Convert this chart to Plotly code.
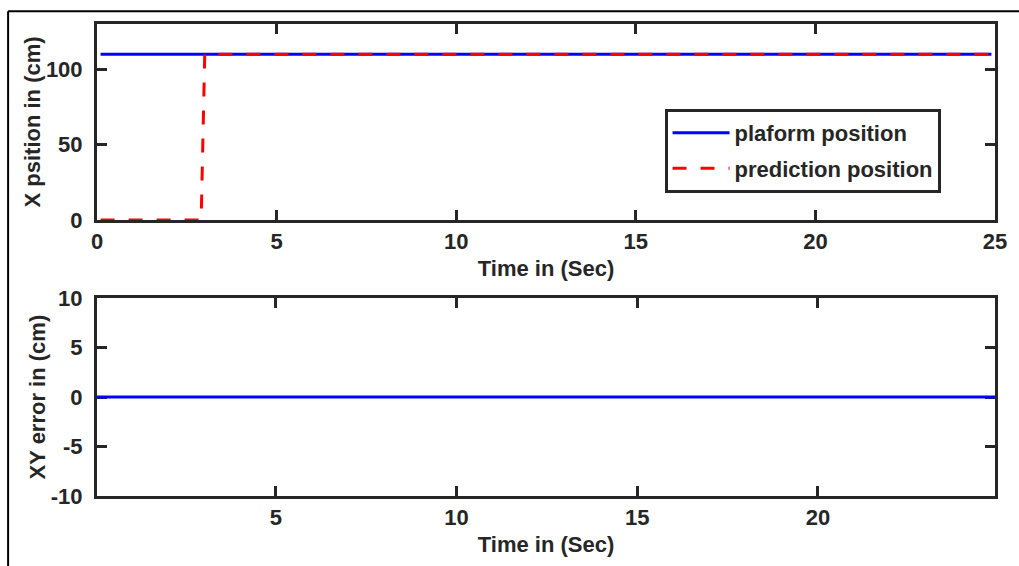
import plotly.graph_objects as go
from plotly.subplots import make_subplots

# data
t_platform = [0.1, 24.9]
platform_x = [110, 110]
t_pred = [0.1, 2.9, 3.0, 24.9]
pred_x = [0, 0, 110, 110]
t_err = [0.05, 24.9]
err_xy = [0, 0]

top_ticks = [0, 5, 10, 15, 20, 25]
bottom_ticks = [5, 10, 15, 20]
top_yticks = [0, 50, 100]
bottom_yticks = [-10, -5, 0, 5, 10]
bottom_yticklabels = ["-10", "-5", "0", "5", "10"]

AX = "#262626"
FONT = dict(family="Liberation Sans, Arial, sans-serif", size=22, color=AX, weight="bold")

fig = make_subplots(rows=2, cols=1, shared_xaxes=False)

fig.add_trace(go.Scatter(x=t_platform, y=platform_x, mode="lines", name="plaform position",
                         legendgroup="a",
                         line=dict(color="#0000FF", width=3)), row=1, col=1)
fig.add_trace(go.Scatter(x=t_pred, y=pred_x, mode="lines", name="prediction position",
                         legendgroup="b",
                         line=dict(color="#FF0000", width=3, dash="14px,14px")), row=1, col=1)
fig.add_trace(go.Scatter(x=t_err, y=err_xy, mode="lines", name="error", showlegend=False,
                         line=dict(color="#0000FF", width=3)), row=2, col=1)

common = dict(showline=True, linecolor=AX, linewidth=3, mirror="ticks", ticks="inside",
              ticklen=10, tickwidth=3, tickcolor=AX, showgrid=False, zeroline=False,
              tickfont=FONT, layer="below traces")

fig.update_xaxes(range=[0, 25], tickvals=top_ticks, domain=[0, 1], ticklabelstandoff=0,
                 title=dict(text="Time in (Sec)", font=FONT, standoff=8), row=1, col=1, **common)
fig.update_yaxes(range=[0, 130], tickvals=top_yticks, domain=[0.585, 1],
                 title=dict(text="X psition in (cm)", font=FONT, standoff=0), row=1, col=1,
                 ticklabelstandoff=7, **common)
fig.update_xaxes(range=[0.05, 24.9], tickvals=bottom_ticks, domain=[0, 1], ticklabelstandoff=0,
                 title=dict(text="Time in (Sec)", font=FONT, standoff=8), row=2, col=1, **common)
fig.update_yaxes(range=[-10, 10], tickvals=bottom_yticks, ticktext=bottom_yticklabels,
                 domain=[0, 0.419],
                 title=dict(text="XY error in (cm)", font=FONT, standoff=0), row=2, col=1,
                 ticklabelstandoff=7, **common)

fig.update_layout(
    width=1019, height=566,
    margin=dict(l=97, r=23, t=18, b=66),
    paper_bgcolor="white", plot_bgcolor="white",
    font=FONT,
    showlegend=True,
    legend=dict(x=0.632, y=0.82, xanchor="left", yanchor="top",
                bgcolor="white", bordercolor=AX, borderwidth=3,
                font=FONT, tracegroupgap=4, itemwidth=57),
    shapes=[
        dict(type="line", xref="paper", yref="paper", x0=-0.099, x1=1.1, y0=1.027, y1=1.027,
             line=dict(color="black", width=2)),
        dict(type="line", xref="paper", yref="paper", x0=-0.099, x1=-0.099, y0=1.027, y1=-0.2,
             line=dict(color="black", width=2)),
    ],
)

fig.write_html("out.html")
